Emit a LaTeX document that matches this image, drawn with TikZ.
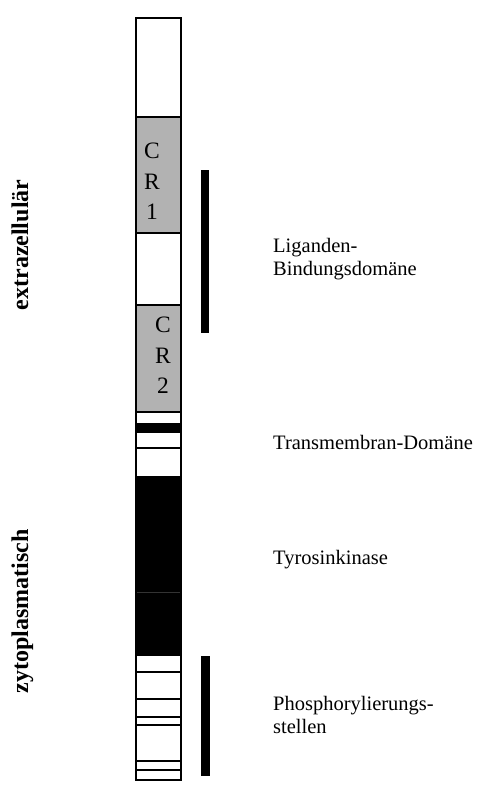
\documentclass[tikz,border=0pt]{standalone}
\usepackage{fontspec}
\setmainfont{Liberation Serif}
\definecolor{crgrey}{RGB}{178,178,178}
\begin{document}
\begin{tikzpicture}[x=1pt,y=-1pt,
  seg/.style={draw=black,line width=1.1pt},
  sep/.style={draw=black,line width=1.1pt},
  thick sep/.style={draw=black,line width=2.2pt},
  crtext/.style={font=\fontsize{23.5}{23.5}\selectfont,inner sep=0pt},
  lbl/.style={font=\fontsize{20.5}{23}\selectfont,anchor=base west,inner sep=0pt},
  side/.style={font=\fontsize{24}{24}\selectfont\bfseries,rotate=90,anchor=base,inner sep=0pt},
  rangebar/.style={fill=black,draw=none}]
\useasboundingbox (0,0) rectangle (479,799);
% bar segments
\fill[white] (136,18) rectangle (181,780);
\fill[crgrey] (136,117) rectangle (181,233);
\fill[crgrey] (136,305) rectangle (181,412);
\fill[black] (136,423) rectangle (181,433);
\fill[black] (136,476) rectangle (181,656);
\draw[gray!40!black,line width=0.4pt] (136,592) -- (181,592);
% separators
\draw[sep] (136,117) -- (181,117);
\draw[sep] (136,233) -- (181,233);
\draw[sep] (136,305) -- (181,305);
\draw[sep] (136,412) -- (181,412);
\draw[sep] (136,448) -- (181,448);
\draw[sep] (136,672) -- (181,672);
\draw[thick sep] (136,699) -- (181,699);
\draw[sep] (136,717) -- (181,717);
\draw[sep] (136,725) -- (181,725);
\draw[sep] (136,761) -- (181,761);
\draw[thick sep] (136,770) -- (181,770);
\draw[seg] (136,18) rectangle (181,780);
% CR letters
\node[crtext] (c1) at (152,151) {C};
\node[crtext] (r1) at (152,182) {R};
\node[crtext] (n1) at (152,212) {1};
\node[crtext] (c2) at (163,325) {C};
\node[crtext] (r2) at (163,356) {R};
\node[crtext] (n2) at (163,386) {2};
% range bars
\fill[rangebar] (201,170) rectangle (208.5,333);
\fill[rangebar] (201,656) rectangle (209.5,776);
% labels
\node[lbl] (lig1) at (273,252) {Liganden-};
\node[lbl] (lig2) at (273,275) {Bindungsdomäne};
\node[lbl] (tm) at (273,449) {Transmembran-Domäne};
\node[lbl] (tk) at (273,564) {Tyrosinkinase};
\node[lbl] (ph1) at (273,710) {Phosphorylierungs-};
\node[lbl] (ph2) at (273,733) {stellen};
% side labels
\node[side] (extra) at (28,245) {extrazellulär};
\node[side] (zyto) at (28,611) {zytoplasmatisch};
\end{tikzpicture}
\end{document}
